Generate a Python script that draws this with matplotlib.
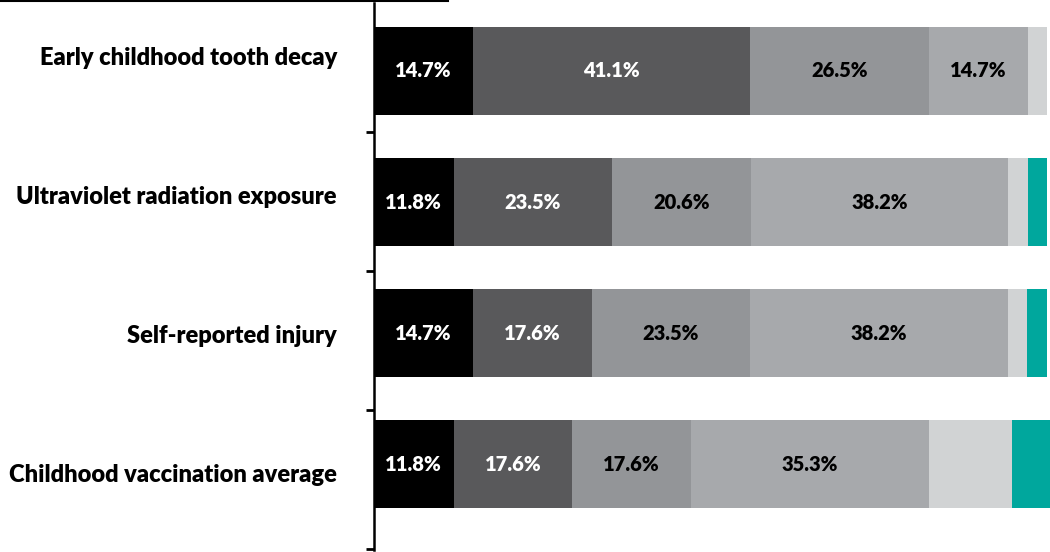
import numpy as np
import matplotlib.pyplot as plt
import matplotlib.transforms as mtransforms
from matplotlib.lines import Line2D

plt.rcParams['font.family'] = ['Lato', 'DejaVu Sans']

categories = ['Early childhood tooth decay', 'Ultraviolet radiation exposure',
              'Self-reported injury', 'Childhood vaccination average']

# shares (%) per segment, left to right
seg1 = [14.7, 11.8, 14.7, 11.8]
seg2 = [41.1, 23.5, 17.6, 17.6]
seg3 = [26.5, 20.6, 23.5, 17.6]
seg4 = [14.7, 38.2, 38.2, 35.3]
seg5 = [2.9, 2.9, 2.9, 12.3]
seg6 = [0.0, 2.9, 2.9, 5.9]

segments = [seg1, seg2, seg3, seg4, seg5, seg6]
colors = ['#000000', '#59595b', '#939598', '#a7a9ac', '#d1d3d4', '#00a79d']
text_colors = ['white', 'white', 'black', 'black', None, None]

fig = plt.figure(figsize=(10.5, 5.52), dpi=100)
ax = fig.add_axes([374 / 1050, 2 / 552, 676 / 1050, 547 / 552])

y = np.arange(len(categories))
left = np.zeros(len(categories))
for vals, col, tcol in zip(segments, colors, text_colors):
    vals = np.array(vals)
    ax.barh(y, vals, left=left, height=0.67, color=col, edgecolor='none')
    if tcol is not None:
        for yi, (l, v) in enumerate(zip(left, vals)):
            ax.text(l + v / 2, yi, f'{v:.1f}%', ha='center', va='center',
                    color=tcol, fontsize=14.5, fontweight='heavy')
    left += vals

ax.set_xlim(0, 100.3)
ax.set_ylim(3.656, -0.519)

# tick marks sit on their own even spacing, labels between them
tick_pos = np.linspace(0.466, 3.65, 4)
step = tick_pos[1] - tick_pos[0]
ax.set_yticks(tick_pos)
ax.set_yticklabels([])
ax.tick_params(axis='y', length=6, width=2, direction='out')
ax.set_xticks([])

trans = mtransforms.blended_transform_factory(ax.transAxes, ax.transData)
for pos, name in zip(tick_pos - step * 0.48, categories):
    ax.text(-37 / 676, pos, name, transform=trans, ha='right', va='baseline',
            fontsize=17, fontweight='heavy')

for s in ['top', 'right', 'bottom']:
    ax.spines[s].set_visible(False)
ax.spines['left'].set_linewidth(1.8)

# short rule at the top left
fig.add_artist(Line2D([0, 448 / 1050], [1 - 1 / 552, 1 - 1 / 552],
                      color='black', linewidth=1.5))

fig.savefig('out.png', dpi=100)
